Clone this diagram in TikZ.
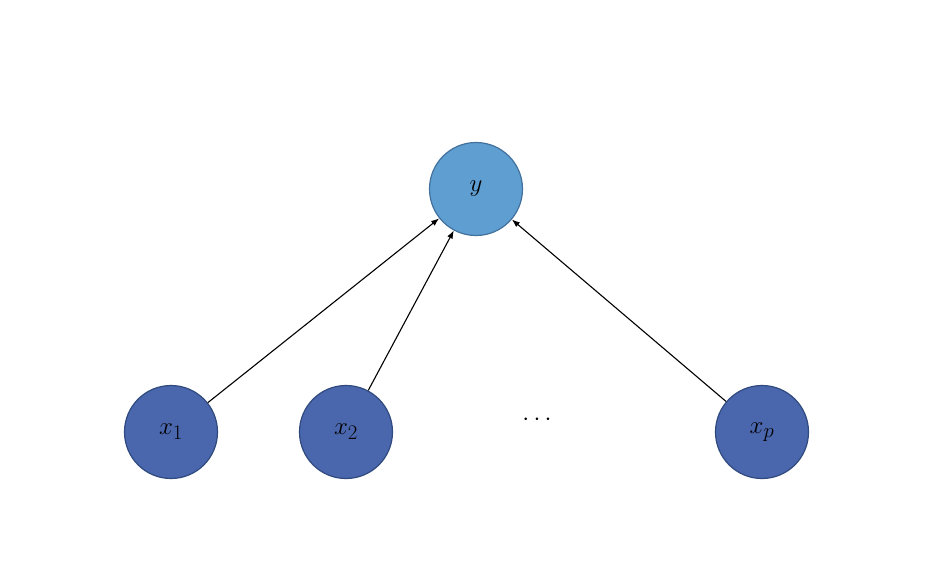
\documentclass[tikz,border=0pt]{standalone}
\usetikzlibrary{arrows.meta}
\begin{document}
\begin{tikzpicture}[x=1pt,y=-1pt,
  nd/.style={circle,minimum size=93pt,inner sep=0pt,line width=1.2pt,font=\fontsize{30}{32}\selectfont},
  yn/.style={nd,fill={rgb,255:red,95;green,158;blue,209},draw={rgb,255:red,65;green,113;blue,156}},
  xn/.style={nd,fill={rgb,255:red,74;green,102;blue,172},draw={rgb,255:red,47;green,74;blue,127}},
  ar/.style={-{Latex[length=8pt,width=6pt]},line width=1.1pt}]
\useasboundingbox (0,0) rectangle (948,563);
\node[yn] (y) at (476,189) {$y$};
\node[xn] (x1) at (171,432) {$x_1$};
\node[xn] (x2) at (346,432) {$x_2$};
\node[xn] (xp) at (762,432) {$x_p$};
\node[font=\fontsize{30}{32}\selectfont] (d) at (537,420) {$\cdots$};
\draw[ar] (x1) -- (y);
\draw[ar] (x2) -- (y);
\draw[ar] (xp) -- (y);
\end{tikzpicture}
\end{document}
